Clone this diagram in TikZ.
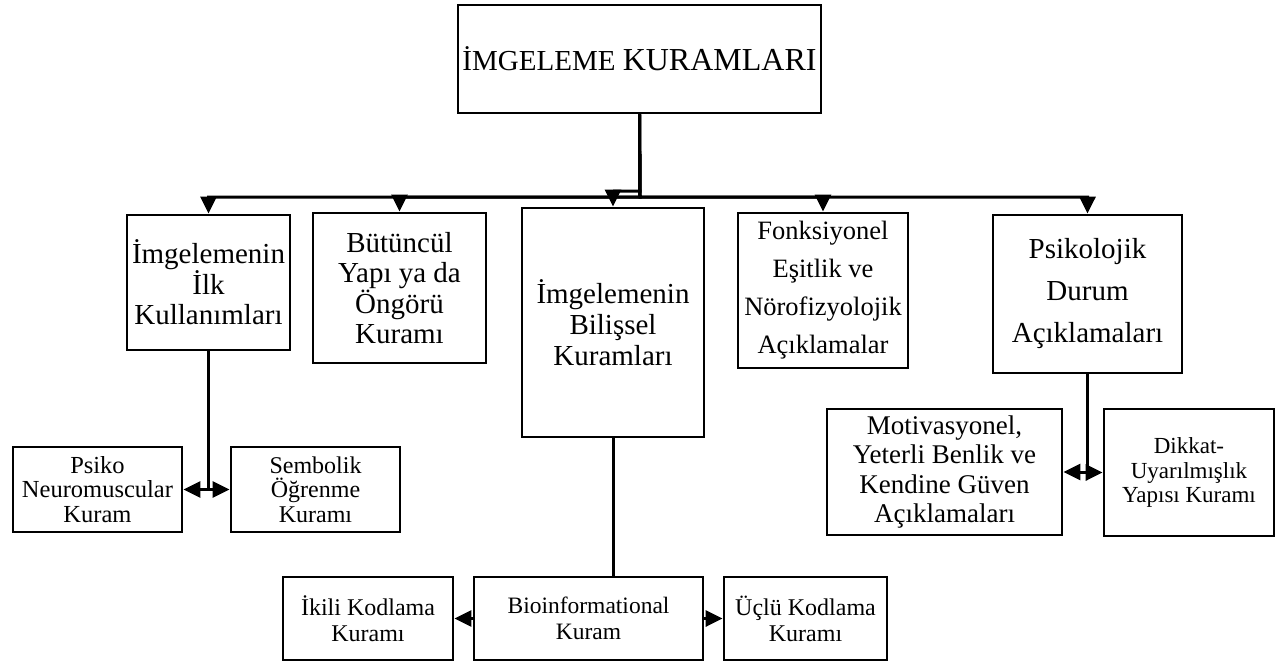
\documentclass[tikz,border=0pt]{standalone}
\usepackage{fontspec}
\setmainfont{Liberation Serif}
\usetikzlibrary{arrows.meta}
\tikzset{
  box/.style={draw=black, line width=2.8pt, inner sep=0pt, align=center, fill=white},
  conn/.style={line width=3pt, draw=black},
  arr/.style={conn, -{Triangle[length=17pt,width=16pt]}},
}
\newcommand{\fs}[2]{\fontsize{#1}{#2}\selectfont}
\begin{document}
\begin{tikzpicture}[x=1pt,y=-1pt]
\useasboundingbox (0,0) rectangle (1284,662);
% title
\node[box, minimum width=363pt, minimum height=108pt, font=\fs{29}{32}] (title) at (639.5,59)
  {İMGELEME {\fs{32}{34}KURAMLARI}};
% level 1
\node[box, minimum width=163pt, minimum height=135pt, font=\fs{29}{30.5}] (b1) at (208.5,282.5)
  {İmgelemenin\\İlk\\Kullanımları};
\node[box, minimum width=173pt, minimum height=150pt, font=\fs{29}{30.5}] (b2) at (399.5,288)
  {Bütüncül\\Yapı ya da\\Öngörü\\Kuramı};
\node[box, minimum width=182pt, minimum height=229pt, font=\fs{29}{31}] (b3) at (613,322.5)
  {İmgelemenin\\Bilişsel\\Kuramları};
\node[box, minimum width=170pt, minimum height=155pt, font=\fs{26.5}{38}] (b4) at (823,290.5)
  {Fonksiyonel\\Eşitlik ve\\Nörofizyolojik\\Açıklamalar};
\node[box, minimum width=189pt, minimum height=158pt, font=\fs{29}{42}] (b5) at (1087.5,294)
  {Psikolojik\\Durum\\Açıklamaları};
% level 2 left
\node[box, minimum width=169pt, minimum height=85pt, font=\fs{24.5}{24.5}] (pnk) at (97.5,489.5)
  {Psiko\\Neuromuscular\\Kuram};
\node[box, minimum width=169pt, minimum height=85pt, font=\fs{24}{24.5}] (sok) at (315.5,489.5)
  {Sembolik\\Öğrenme\\Kuramı};
% level 2 right
\node[box, minimum width=235pt, minimum height=126pt, font=\fs{27}{29.5}] (mot) at (944.5,472)
  {Motivasyonel,\\Yeterli Benlik ve\\Kendine Güven\\Açıklamaları};
\node[box, minimum width=170pt, minimum height=127pt, font=\fs{23}{24.5}] (dik) at (1189,472.5)
  {Dikkat-\\Uyarılmışlık\\Yapısı Kuramı};
% bottom
\node[box, minimum width=170pt, minimum height=83pt, font=\fs{24}{26}] (iki) at (368,618.5)
  {İkili Kodlama\\Kuramı};
\node[box, minimum width=229pt, minimum height=83pt, font=\fs{23.5}{26}] (bio) at (588.5,618.5)
  {Bioinformational\\Kuram};
\node[box, minimum width=163pt, minimum height=83pt, font=\fs{24}{26}] (ucl) at (805.5,618.5)
  {Üçlü Kodlama\\Kuramı};
% connectors from title
\coordinate (jn) at (640,197);
\coordinate (j3) at (640,191);
\draw[arr] (title.south) -- (jn) -| (b1.north);
\draw[arr] (title.south) -- (jn) -| (b2.north);
\draw[arr] (title.south) -- (j3) -| (b3.north);
\draw[arr] (title.south) -- (jn) -| (b4.north);
\draw[arr] (title.south) -- (jn) -| (b5.north);
% left branch
\draw[arr] (b1.south) |- (pnk.east);
\draw[arr] (b1.south) |- (sok.west);
% right branch
\draw[arr] (b5.south) |- (mot.east);
\draw[arr] (b5.south) |- (dik.west);
% bottom branch
\draw[conn] (b3.south) -- (b3.south |- bio.north);
\draw[arr] (bio.west) -- (iki.east);
\draw[arr] (bio.east) -- (ucl.west);
\end{tikzpicture}
\end{document}
